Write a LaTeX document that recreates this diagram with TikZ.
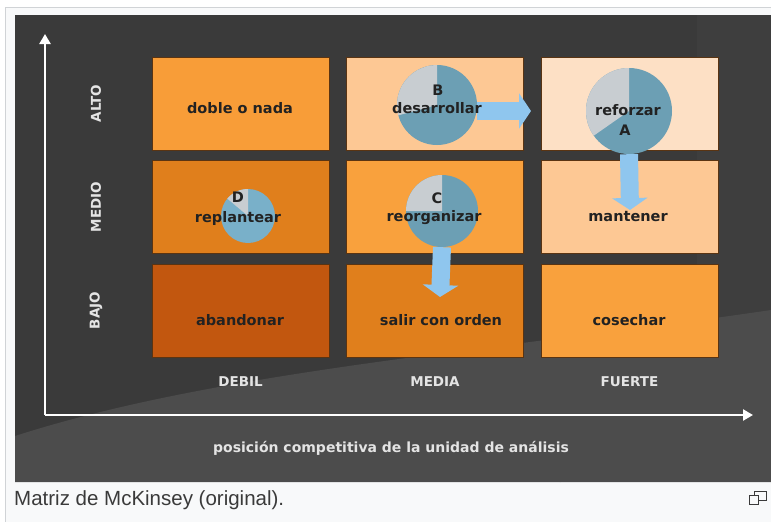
\documentclass[tikz,border=0pt]{standalone}
\usepackage{fontspec}
\setmainfont{DejaVu Sans}
\newfontfamily\capfont{Liberation Sans}
\usetikzlibrary{positioning, calc, arrows.meta}
\definecolor{frame}{HTML}{F8F9FA}
\definecolor{frameline}{HTML}{D0D3D6}
\definecolor{panel}{HTML}{3A3A3A}
\definecolor{panelright}{HTML}{3E3E3E}
\definecolor{swoosh}{HTML}{4C4C4C}
\definecolor{cellline}{HTML}{5A3412}
\definecolor{cA}{HTML}{F89D38}
\definecolor{cB}{HTML}{FDC894}
\definecolor{cC}{HTML}{FDE0C5}
\definecolor{cD}{HTML}{E07F1C}
\definecolor{cE}{HTML}{F9A13D}
\definecolor{cF}{HTML}{C2570F}
\definecolor{pieblue}{HTML}{6C9FB4}
\definecolor{pieblueD}{HTML}{79B0C9}
\definecolor{piegray}{HTML}{C8CDD1}
\definecolor{arrowblue}{HTML}{8FC6EE}
\definecolor{txt}{HTML}{222222}
\definecolor{axtxt}{HTML}{E4E4E4}
\definecolor{captxt}{HTML}{3A3A3A}
\tikzset{
  cell/.style={minimum width=177pt, minimum height=93pt, draw=cellline, line width=0.7pt, inner sep=0pt},
  lbl/.style={font=\bfseries\fontsize{14.5}{15}\selectfont, text=txt, inner sep=0pt},
  axlbl/.style={font=\bfseries\fontsize{13.5}{14}\selectfont, text=axtxt, inner sep=0pt},
  axis/.style={draw=white, line width=2.4pt, -{Triangle[length=10pt, width=11pt]}},
  bigarrow/.style={draw=arrowblue, line width=18pt, -{Triangle[length=12pt, width=35pt]}}
}
\begin{document}
\begin{tikzpicture}[x=1pt, y=-1pt]
\useasboundingbox (0,0) rectangle (771,522);
\fill[white] (0,0) rectangle (771,522);
\filldraw[fill=frame, draw=frameline] (5,7) rectangle (780,530);
\fill[panel] (15,15) rectangle (771,482);
\fill[panelright] (697,15) rectangle (771,482);
\fill[swoosh] (15,436) .. controls (220,370) and (500,350) .. (771,310) -- (771,482) -- (15,482) -- cycle;
\draw[black!70, line width=0.8pt, opacity=0.6] (560,482) -- (640,350);

\foreach \n/\x/\y/\clr in {11/240.5/103.5/cA, 21/435/103.5/cB, 31/629.5/103.5/cC,
                          12/240.5/207/cD, 22/435/207/cE, 32/629.5/207/cB,
                          13/240.5/310.5/cF, 23/435/310.5/cD, 33/629.5/310.5/cE}
{
    \node[cell, fill=\clr] (c\n) at (\x,\y) {};
}

\foreach \n/\x/\y/\r/\a/\clr in {B/437/105/40/195/pieblue, A/629/111/43/215/pieblue,
                                 D/248/216/27/140/pieblueD, C/442/211/36/180/pieblue}
{
    \node[circle, fill=\clr, minimum size=\r*2pt, inner sep=0pt] (pie\n) at (\x,\y) {};
    \fill[piegray] (pie\n.center) -- ++(-90:\r) arc[start angle=-90, end angle=-\a, radius=\r] -- cycle;
}

\coordinate (tipB) at (531,111);
\coordinate (tipA) at (630,210);
\coordinate (tipC) at (440,297);
\draw[bigarrow] (pieB.east |- tipB) -- (tipB);
\draw[bigarrow] (pieA.south) -- (tipA);
\draw[bigarrow] (pieC.south) -- (tipC);

\node[lbl] (doble) at (240,108) {doble o nada};
\node[lbl] (B) at (438,90) {B};
\node[lbl] (desarrollar) at (437,108) {desarrollar};
\node[lbl] (reforzar) at (628,110) {reforzar};
\node[lbl] (A) at (625,130) {A};
\node[lbl] (D) at (238,197) {D};
\node[lbl] (replantear) at (238,218) {replantear};
\node[lbl] (C) at (437,198) {C};
\node[lbl] (reorganizar) at (434,218) {reorganizar};
\node[lbl] (mantener) at (628,217) {mantener};
\node[lbl] (abandonar) at (240,320) {abandonar};
\node[lbl] (salir) at (441,320) {salir con orden};
\node[lbl] (cosechar) at (629,320) {cosechar};

\coordinate (O) at (45,415);
\coordinate (ytop) at (45,34);
\coordinate (xend) at (753,415);
\draw[axis] (O) -- (ytop);
\draw[axis] (O) -- (xend);

\foreach \t/\y in {ALTO/103.5, MEDIO/207, BAJO/310.5}
    \node[axlbl, rotate=90] (\t) at (96,\y) {\t};
\foreach \t/\x in {DEBIL/240.5, MEDIA/435, FUERTE/629.5}
    \node[axlbl] (\t) at (\x,382) {\t};
\node[axlbl, font=\bfseries\fontsize{14}{15}\selectfont] (titulo) at (391,448) {posición competitiva de la unidad de análisis};

\node[anchor=west, inner sep=0pt, font=\capfont\fontsize{20.5}{21}\selectfont, text=captxt] (caption) at (14,500) {Matriz de McKinsey (original).};
\draw[captxt, line width=0.9pt] (754,491) rectangle (766,500);
\fill[frame] (749,495) rectangle (758,504);
\draw[captxt, line width=0.9pt] (749,495) rectangle (758,504);
\end{tikzpicture}
\end{document}
